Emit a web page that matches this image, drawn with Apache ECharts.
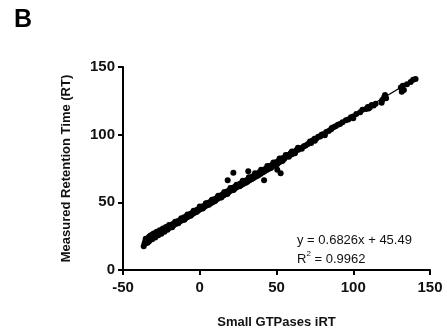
<!DOCTYPE html>
<html>
<head>
<meta charset="utf-8">
<script src="https://cdn.jsdelivr.net/npm/echarts@6/dist/echarts.min.js"></script>
<style>
html,body{margin:0;padding:0;background:#fff;}
#chart{width:447px;height:334px;}
</style>
</head>
<body>
<div id="chart"></div>
<script>
// Small GTPases iRT (x) values
const irtValues = [
-36.5,-36,-35.5,-35,-34.6,-34.2,-33.8,-33.5,-33,-32.7,-32.3,-32,-31.6,-31.2,-30.8,-30.5,-30.1,-29.7,-29.3,-29,-28.6,-28.2,-27.8,-27.3,-26.9,-26.4,-26,-25.5,-25,-24.4,-23.9,-23.3,-22.7,-22.1,-21.5,-20.9,-20.3,-19.7,
-19,-18.4,-17.8,-17.2,-16.6,-16,-15.4,-14.8,-14.1,-13.5,-12.8,-12.1,-11.5,-10.8,-10.1,-9.5,-8.8,-8.1,-7.4,-6.7,-6,-5.3,-4.6,-3.9,-3.2,-2.5,-1.8,-1.1,-0.4,0.3,
1,1.7,2.4,3.1,3.8,4.5,5.2,5.9,6.6,7.3,8,8.7,9.4,10.1,10.8,11.5,12.2,12.9,13.6,14.3,15,15.7,16.4,17.1,17.8,18.5,19.2,19.9,
20.6,21.3,22,22.7,23.4,24.1,24.8,25.5,26.2,26.9,27.6,28.3,29,29.7,30.4,31.1,31.8,32.5,33.2,33.9,34.6,35.3,36,36.7,37.4,38.1,38.8,39.5,
18.2,21.9,31.6,41.9,50.5,52.7,
40.2,40.9,41.6,42.3,43,43.7,44.4,45.1,45.8,46.5,47.2,47.9,48.6,49.3,50,50.7,51.4,52.1,52.8,53.5,54.2,55,55.8,56.6,57.4,58.3,59.2,60.1,61,62,63.1,64.2,
65.3,66.5,67.8,69,70.5,71.8,72.6,73.5,74.8,76,77.2,78.5,79.3,80.2,81.5,82.4,84,85.6,87.1,88.5,90,91.4,93,95.2,96.8,98.5,100,
102,104.5,106,108.3,109.5,110.8,112,113.3,114.6,118.5,118.9,120.2,120.7,121.4,131,131.6,132.3,133,135,137.4,139,140.6,
-35.2,-34,-33,-32,-31,-30,-29,-28,-27,-26,-25,-24,-23,-22,-21,-20,-18,-16,-14,-12,-10,-8,-6,-4,-2,0,2,4,6,8,10,12,14,16,18,20,22,24,26,28,30,32,34,36,38,40,42,44,46,48,50,52,54,56,58,60,62,64,
75,86,100,110
];
// Measured Retention Time (RT) (y) values
const rtValues = [
17.6,19.5,21.2,20.0,22.5,21.0,23.4,22.0,24.5,22.8,25.1,23.4,24.2,26.0,23.9,25.5,26.4,24.6,26.9,25.3,27.2,25.8,27.6,26.4,28.1,27.0,28.6,27.7,29.0,28.2,29.8,29.0,30.6,29.8,31.3,30.5,32.0,31.2,
32.6,32.0,33.8,32.9,34.5,33.8,35.3,34.6,36.2,35.4,37.0,36.3,37.8,37.1,38.9,38.0,39.7,39.0,40.6,40.0,41.6,40.8,42.5,41.9,43.4,42.8,44.5,43.8,45.3,44.9,
46.6,45.8,47.3,46.7,48.4,47.6,49.5,48.7,50.3,49.4,51.5,50.2,52.3,51.4,53.1,52.4,54.0,53.3,55.1,54.2,56.0,55.3,56.9,56.2,58.0,57.3,59.0,58.3,
60.0,59.2,61.0,60.1,61.8,61.1,62.8,62.0,63.7,62.7,64.6,63.6,65.5,64.7,66.4,65.3,67.4,66.3,68.3,67.4,69.3,68.2,70.4,69.1,71.2,70.2,72.3,71.0,
66.4,71.9,72.9,66.3,74.0,71.5,
73.1,72.0,74.0,73.2,74.9,73.9,75.9,74.8,76.9,75.6,77.7,76.8,78.8,77.5,79.8,78.6,80.7,79.8,81.5,80.6,82.8,82.0,83.6,83.9,84.9,84.5,86.2,85.6,87.3,87.0,88.6,88.9,
90.1,89.6,91.4,92.0,93.1,94.9,93.9,95.6,96.9,97.1,98.4,98.6,99.9,100.4,99.5,101.9,102.8,104.0,105.4,106.2,107.3,107.9,109.1,110.6,111.2,112.9,113.4,
115.2,116.6,118.4,118.9,120.4,120.1,122.0,121.5,122.8,123.6,125.6,127.8,129.3,127.0,134.9,131.8,136.2,133.0,137.2,138.9,140.5,141.1,
23.0,20.2,21.3,25.4,22.8,27.0,24.0,28.3,25.6,29.4,26.8,30.6,28.2,31.8,29.8,33.2,31.6,35.6,34.5,38.3,37.2,41.0,40.0,43.8,43.0,46.9,45.5,49.4,48.3,52.0,50.9,54.8,53.6,57.6,56.2,60.5,59.2,63.0,61.9,65.9,64.4,68.6,67.2,71.4,69.8,74.0,72.7,76.8,75.4,79.5,78.0,82.3,80.8,85.0,83.6,87.6,86.2,90.3,
95.5,105.0,112.2,119.4
];
// Linear regression reported in the figure
const slope = 0.6826;
const intercept = 45.49;
const fitLabel = ['y = 0.6826x + 45.49', 'R{sup|2} = 0.9962'];
const xTicks = [-50, 0, 50, 100, 150];
const yTicks = [0, 50, 100, 150];

const points = irtValues.map((x, i) => [x, rtValues[i]]);
const xMin = Math.min(...irtValues), xMax = Math.max(...irtValues);
const fitLine = [[xMin, slope * xMin + intercept], [xMax, slope * xMax + intercept]];

const chart = echarts.init(document.getElementById('chart'), null, {renderer: 'canvas'});
const font = 'Liberation Sans, Arial, sans-serif';
chart.setOption({
  animation: false,
  backgroundColor: '#fff',
  grid: {left: 123, right: 17, top: 67, bottom: 64, containLabel: false},
  xAxis: {
    type: 'value', min: xTicks[0], max: xTicks[xTicks.length - 1], interval: 50,
    name: 'Small GTPases iRT', nameLocation: 'middle', nameGap: 46,
    nameTextStyle: {fontFamily: font, fontWeight: 'bold', fontSize: 13, color: '#111'},
    axisLine: {show: true, onZero: false, lineStyle: {color: '#000', width: 2}},
    axisTick: {show: true, length: 5, lineStyle: {color: '#000', width: 2}},
    axisLabel: {fontFamily: font, fontWeight: 'bold', fontSize: 15, color: '#111', margin: 10},
    splitLine: {show: false}
  },
  yAxis: {
    type: 'value', min: yTicks[0], max: yTicks[yTicks.length - 1], interval: 50,
    name: 'Measured Retention Time (RT)', nameLocation: 'middle', nameGap: 50, nameRotate: 90,
    nameTextStyle: {fontFamily: font, fontWeight: 'bold', fontSize: 13, color: '#111'},
    axisLine: {show: true, onZero: false, lineStyle: {color: '#000', width: 2}},
    axisTick: {show: true, length: 5, lineStyle: {color: '#000', width: 2}},
    axisLabel: {fontFamily: font, fontWeight: 'bold', fontSize: 15, color: '#111', margin: 8},
    splitLine: {show: false}
  },
  series: [
    {type: 'scatter', data: points, symbolSize: 6, itemStyle: {color: '#000', opacity: 1}, z: 3},
    {type: 'line', data: fitLine, showSymbol: false, lineStyle: {color: '#000', width: 1.3}, z: 4}
  ],
  graphic: [
    {type: 'text', left: 14, top: 8, style: {text: 'B', fontFamily: font, fontWeight: 'bold', fontSize: 25, fill: '#000'}},
    {type: 'text', left: 297, top: 231, style: {
      text: fitLabel.join('\n'), fontFamily: font, fontSize: 13, fill: '#111', lineHeight: 19,
      rich: {sup: {fontSize: 8, verticalAlign: 'top', fontFamily: font, fill: '#111', padding: [0,0,7,0]}}
    }}
  ]
});
</script>
</body>
</html>
